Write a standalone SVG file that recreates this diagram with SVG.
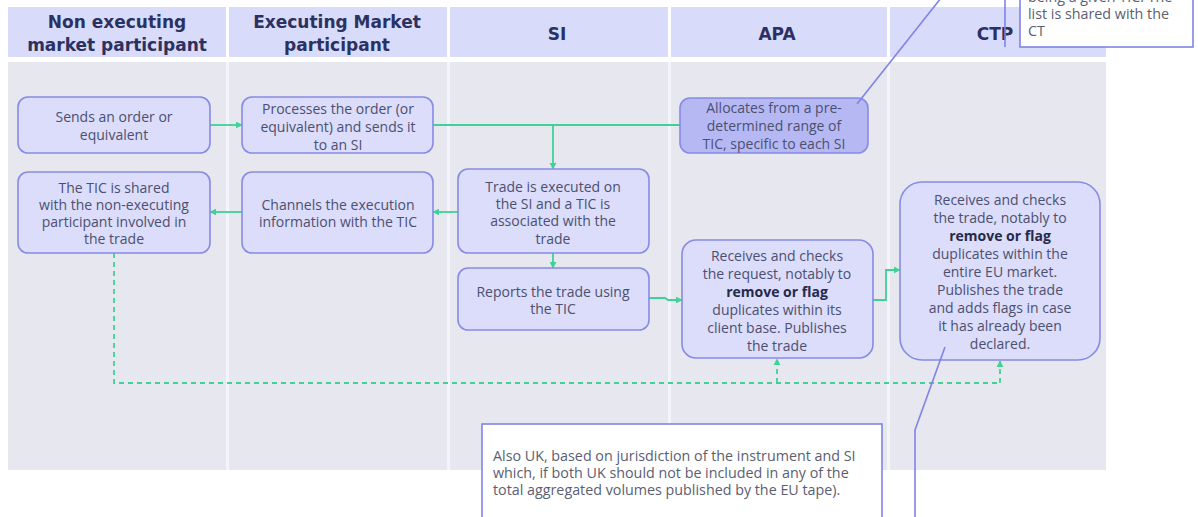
<svg xmlns="http://www.w3.org/2000/svg" width="1198" height="517" viewBox="0 0 1198 517">
<defs>
<style>
.hdr{fill:#d9dbfa}
.body{fill:#e6e7ef}
.sep{stroke:#f4f5fa;stroke-width:3}
.ht{font-family:"DejaVu Sans","Liberation Sans",sans-serif;font-weight:700;font-size:17px;fill:#2b3160;text-anchor:middle}
.node{fill:#dcdcfb;stroke:#878be4;stroke-width:1.6}
.nodeDark{fill:#b6b8f4;stroke:#878be4;stroke-width:1.6}
.t{font-family:"Open Sans","Liberation Sans",sans-serif;font-size:14px;fill:#4b5070;text-anchor:middle}
.b{font-weight:700;fill:#252a4a}
.c{fill:none;stroke:#3fd196;stroke-width:1.8}
.d{fill:none;stroke:#3fd196;stroke-width:1.8;stroke-dasharray:5 4}
.ann{fill:#ffffff;stroke:#7f84e6;stroke-width:1.6}
.al{fill:none;stroke:#7f84e6;stroke-width:1.6}
.at{font-family:"Open Sans","Liberation Sans",sans-serif;font-size:14.3px;fill:#5a5e72}
</style>
<marker id="ah" viewBox="0 0 10 10" refX="9" refY="5" markerWidth="7" markerHeight="7" markerUnits="userSpaceOnUse" orient="auto">
<path d="M0,0 L10,5 L0,10 z" fill="#3fd196"/>
</marker>
</defs>
<rect width="1198" height="517" fill="#ffffff"/>
<g id="lanes">
<rect class="hdr" x="8" y="7" width="218" height="50"/>
<rect class="hdr" x="229" y="7" width="218" height="50"/>
<rect class="hdr" x="450" y="7" width="218" height="50"/>
<rect class="hdr" x="671" y="7" width="216" height="50"/>
<rect class="hdr" x="890" y="7" width="216" height="50"/>
<rect class="body" x="8" y="62" width="1098" height="408"/>
<line class="sep" x1="227.5" y1="62" x2="227.5" y2="470"/>
<line class="sep" x1="448.5" y1="62" x2="448.5" y2="470"/>
<line class="sep" x1="669.5" y1="62" x2="669.5" y2="470"/>
<line class="sep" x1="888.5" y1="62" x2="888.5" y2="470"/>
<text class="ht" x="117" y="28">Non executing</text>
<text class="ht" x="117" y="51">market participant</text>
<text class="ht" x="337" y="28">Executing Market</text>
<text class="ht" x="337" y="51">participant</text>
<text class="ht" x="557" y="40">SI</text>
<text class="ht" x="777" y="40">APA</text>
<text class="ht" x="995" y="40">CTP</text>
</g>
<g id="connectors">
<line class="c" x1="210" y1="125" x2="242" y2="125" marker-end="url(#ah)"/>
<line class="c" x1="433" y1="125" x2="680" y2="125"/>
<line class="c" x1="553" y1="125" x2="553" y2="169" marker-end="url(#ah)"/>
<line class="c" x1="458" y1="212" x2="433" y2="212" marker-end="url(#ah)"/>
<line class="c" x1="242" y1="212" x2="210" y2="212" marker-end="url(#ah)"/>
<line class="c" x1="553" y1="253" x2="553" y2="268" marker-end="url(#ah)"/>
<polyline class="c" points="649,298 665,298 668,300 682,300" marker-end="url(#ah)"/>
<polyline class="c" points="873,300 886,300 886,270 900,270" marker-end="url(#ah)"/>
<polyline class="d" points="114,253 114,383 1000,383"/>
<line class="d" x1="777" y1="383" x2="777" y2="359" marker-end="url(#ah)"/>
<line class="d" x1="1000" y1="383" x2="1000" y2="361" marker-end="url(#ah)"/>
</g>
<g id="n-sends">
<rect class="node" x="18" y="97" width="192" height="56" rx="10"/>
<text class="t" x="114" y="122">Sends an order or</text>
<text class="t" x="114" y="140">equivalent</text>
</g>
<g id="n-processes">
<rect class="node" x="242" y="97" width="191" height="56" rx="10"/>
<text class="t" x="338" y="114">Processes the order (or</text>
<text class="t" x="338" y="132">equivalent) and sends it</text>
<text class="t" x="338" y="150">to an SI</text>
</g>
<g id="n-allocates">
<rect class="nodeDark" x="680" y="98" width="188" height="55" rx="10"/>
<text class="t" x="774" y="113">Allocates from a pre-</text>
<text class="t" x="774" y="131">determined range of</text>
<text class="t" x="774" y="149">TIC, specific to each SI</text>
</g>
<g id="n-shared">
<rect class="node" x="18" y="172" width="192" height="81" rx="10"/>
<text class="t" x="114" y="193">The TIC is shared</text>
<text class="t" x="114" y="210">with the non-executing</text>
<text class="t" x="114" y="227">participant involved in</text>
<text class="t" x="114" y="244">the trade</text>
</g>
<g id="n-channels">
<rect class="node" x="242" y="172" width="191" height="81" rx="10"/>
<text class="t" x="338" y="210">Channels the execution</text>
<text class="t" x="338" y="227">information with the TIC</text>
</g>
<g id="n-trade">
<rect class="node" x="458" y="169" width="191" height="84" rx="10"/>
<text class="t" x="553" y="192">Trade is executed on</text>
<text class="t" x="553" y="209">the SI and a TIC is</text>
<text class="t" x="553" y="226">associated with the</text>
<text class="t" x="553" y="244">trade</text>
</g>
<g id="n-reports">
<rect class="node" x="458" y="268" width="191" height="62" rx="10"/>
<text class="t" x="553" y="297">Reports the trade using</text>
<text class="t" x="553" y="314">the TIC</text>
</g>
<g id="n-apa">
<rect class="node" x="682" y="240" width="191" height="118" rx="14"/>
<text class="t" x="777" y="261">Receives and checks</text>
<text class="t" x="777" y="279">the request, notably to</text>
<text class="t b" x="777" y="297">remove or flag</text>
<text class="t" x="777" y="315">duplicates within its</text>
<text class="t" x="777" y="333">client base. Publishes</text>
<text class="t" x="777" y="351">the trade</text>
</g>
<g id="n-ctp">
<rect class="node" x="900" y="182" width="200" height="178" rx="22"/>
<text class="t" x="1000" y="205">Receives and checks</text>
<text class="t" x="1000" y="223">the trade, notably to</text>
<text class="t b" x="1000" y="241">remove or flag</text>
<text class="t" x="1000" y="259">duplicates within the</text>
<text class="t" x="1000" y="277">entire EU market.</text>
<text class="t" x="1000" y="295">Publishes the trade</text>
<text class="t" x="1000" y="313">and adds flags in case</text>
<text class="t" x="1000" y="331">it has already been</text>
<text class="t" x="1000" y="349">declared.</text>
</g>
<g id="annotations">
<line class="al" x1="857" y1="104" x2="941" y2="-2"/>
<line class="al" x1="1005" y1="-2" x2="1005" y2="47"/>
<rect class="ann" x="1020" y="-10" width="173" height="57"/>
<text class="at" x="1028" y="2">being a given TIC. The</text>
<text class="at" x="1028" y="19">list is shared with the</text>
<text class="at" x="1028" y="36">CT</text>
<polyline class="al" points="945,347 915,430 915,520"/>
<rect class="ann" x="482" y="424" width="400" height="100"/>
<text class="at" x="493" y="461">Also UK, based on jurisdiction of the instrument and SI</text>
<text class="at" x="493" y="478">which, if both UK should not be included in any of the</text>
<text class="at" x="493" y="495">total aggregated volumes published by the EU tape).</text>
</g>
</svg>
